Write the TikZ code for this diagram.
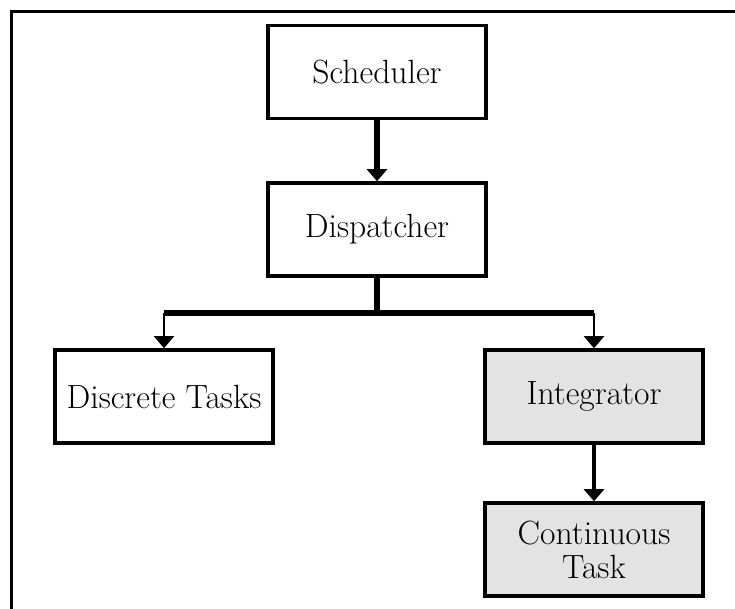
\documentclass[tikz,border=0pt]{standalone}
\usetikzlibrary{arrows.meta}

\tikzset{
    block/.style={draw, line width=1.8pt, minimum width=109pt, minimum height=46.5pt,
        inner sep=0pt, align=center, font=\fontsize{16.8}{17}\selectfont},
    shaded/.style={block, fill=black!11},
    trunk/.style={line width=2.8pt},
    branch/.style={line width=1.2pt, -{Triangle[width=10pt,length=6pt]}},
}

\begin{document}
\begin{tikzpicture}[x=0.5pt, y=-0.5pt]
        \useasboundingbox ( 0, 0 ) rectangle ( 735, 609 );

        % рамка
        \draw[line width=1.5pt] ( 11, 609 ) -- ( 11, 11.5 ) -- ( 735, 11.5 );

        % блоки
        \node[block] (sched) at ( 377, 72 ) {Scheduler};
        \node[block] (disp) at ( 377, 229.5 ) {Dispatcher};
        \node[block] (disc) at ( 164, 396.5 ) {Discrete Tasks};
        \node[shaded] (integ) at ( 594, 396.5 ) {Integrator};
        \node[shaded] (cont) at ( 594, 549.5 ) {Continuous\\Task};

        % sched-disp
        \draw[line width=2.6pt, -{Triangle[width=10pt,length=6pt]}] (sched) -- (disp);

        % disp-[disc,integ]
        \coordinate (fork) at ( 377, 313 );
        \draw[trunk] (disp) -- (fork);
        \draw[trunk] (disc.north |- fork) -- (integ.north |- fork);
        \draw[branch] (disc.north |- fork) -- (disc);
        \draw[branch] (integ.north |- fork) -- (integ);

        % integ-cont
        \draw[line width=1.8pt, -{Triangle[width=10pt,length=6pt]}] (integ) -- (cont);
    \end{tikzpicture}
\end{document}
